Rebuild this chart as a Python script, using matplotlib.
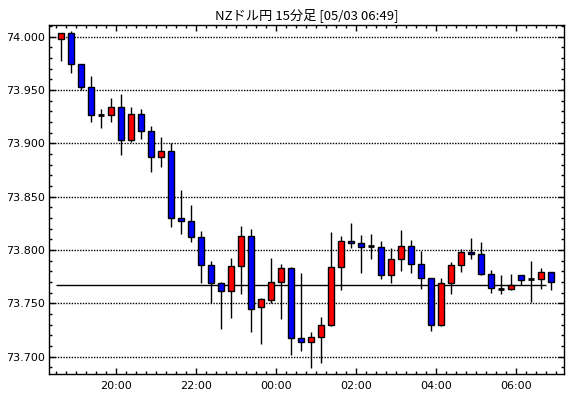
import matplotlib
matplotlib.use("Agg")
import matplotlib.pyplot as plt
import matplotlib.dates as mdates
import matplotlib.ticker as mticker
import pandas as pd

# ---- data ----
start_time = "2024-05-02 18:30"
n_candles = 50
opens = [73.998, 74.003, 73.974, 73.953, 73.926, 73.926, 73.934, 73.903, 73.927, 73.911,
         73.887, 73.893, 73.830, 73.827, 73.812, 73.786, 73.769, 73.761, 73.785, 73.813,
         73.746, 73.753, 73.770, 73.783, 73.717, 73.714, 73.718, 73.730, 73.784, 73.808,
         73.806, 73.804, 73.803, 73.776, 73.791, 73.804, 73.787, 73.774, 73.730, 73.769,
         73.786, 73.798, 73.796, 73.777, 73.763, 73.763, 73.776, 73.773, 73.773, 73.779]
closes = [74.003, 73.974, 73.953, 73.926, 73.926, 73.934, 73.903, 73.927, 73.911, 73.887,
          73.893, 73.830, 73.827, 73.812, 73.786, 73.769, 73.761, 73.785, 73.813, 73.745,
          73.754, 73.770, 73.783, 73.717, 73.714, 73.718, 73.730, 73.784, 73.808, 73.806,
          73.803, 73.804, 73.776, 73.791, 73.804, 73.787, 73.774, 73.730, 73.769, 73.786,
          73.798, 73.796, 73.777, 73.764, 73.763, 73.767, 73.772, 73.773, 73.779, 73.770]
highs = [74.003, 74.005, 73.974, 73.963, 73.932, 73.942, 73.946, 73.934, 73.932, 73.916,
         73.906, 73.900, 73.856, 73.842, 73.818, 73.790, 73.770, 73.792, 73.822, 73.820,
         73.755, 73.792, 73.787, 73.784, 73.778, 73.723, 73.737, 73.817, 73.813, 73.825,
         73.814, 73.815, 73.808, 73.802, 73.819, 73.809, 73.799, 73.774, 73.774, 73.789,
         73.801, 73.811, 73.807, 73.781, 73.776, 73.777, 73.776, 73.790, 73.783, 73.779]
lows = [73.977, 73.966, 73.950, 73.920, 73.914, 73.920, 73.889, 73.901, 73.904, 73.873,
        73.878, 73.821, 73.815, 73.807, 73.769, 73.750, 73.726, 73.736, 73.759, 73.723,
        73.712, 73.750, 73.735, 73.701, 73.705, 73.689, 73.694, 73.729, 73.762, 73.802,
        73.778, 73.791, 73.773, 73.769, 73.780, 73.778, 73.763, 73.724, 73.729, 73.759,
        73.779, 73.791, 73.776, 73.760, 73.759, 73.762, 73.767, 73.751, 73.763, 73.762]
ref_level = 73.767
title = "NZドル円 15分足 [05/03 06:49]"
y_ticks = [73.700, 73.750, 73.800, 73.850, 73.900, 73.950, 74.000]

# ---- plot ----
plt.rcParams['font.family'] = ['Noto Sans CJK JP', 'DejaVu Sans']
fig = plt.figure(figsize=(5.70, 3.98), dpi=100)
ax = fig.add_axes([49.3 / 570, 1 - 374 / 398, (564.3 - 49.3) / 570, (374 - 25) / 398])

times = pd.date_range(start_time, periods=n_candles, freq="15min")
centers = times + pd.Timedelta(minutes=7.5)
xc = mdates.date2num(centers)
body_w = 9.75 / (24 * 60)

for x, o, c, h, l in zip(xc, opens, closes, highs, lows):
    ax.vlines(x, l, h, color="black", lw=1, zorder=3)
    if abs(c - o) < 1e-9:
        ax.hlines(o, x - body_w / 2, x + body_w / 2, color="black", lw=2, zorder=4)
    else:
        col = "#FF0000" if c > o else "#0000FF"
        ax.bar(x, abs(c - o), bottom=min(o, c), width=body_w, color=col,
               edgecolor="black", linewidth=1, zorder=4)

ax.hlines(ref_level, mdates.date2num(times[0]), mdates.date2num(times[-1]),
          color="black", lw=1, zorder=2)

for yv in y_ticks:
    ax.axhline(yv, color="black", lw=1, ls=(0, (1, 1)), zorder=1)

ax.set_ylim(73.6836, 74.0108)
ax.set_xlim(mdates.date2num(pd.Timestamp("2024-05-02 18:20")),
            mdates.date2num(pd.Timestamp("2024-05-03 07:12:30")))

ax.set_yticks(y_ticks)
ax.yaxis.set_major_formatter(mticker.FormatStrFormatter("%.3f"))
ax.yaxis.set_minor_locator(mticker.MultipleLocator(0.01))
ax.xaxis.set_major_locator(mdates.HourLocator(byhour=range(0, 24, 2)))
ax.xaxis.set_minor_locator(mdates.MinuteLocator(byminute=[0, 15, 30, 45]))
ax.xaxis.set_major_formatter(mdates.DateFormatter("%H:%M"))

ax.tick_params(axis="both", which="both", direction="in", colors="black",
               top=True, right=True, labelsize=8)
ax.tick_params(axis="both", which="major", length=4, width=1)
ax.tick_params(axis="both", which="minor", length=2.5, width=1)
ax.tick_params(axis="x", which="major", pad=5)
ax.tick_params(axis="y", which="major", pad=3)
for lab in ax.get_xticklabels() + ax.get_yticklabels():
    lab.set_family("DejaVu Sans")

for s in ax.spines.values():
    s.set_color("black")
    s.set_linewidth(1)

ax.set_title(title, fontsize=9.5, pad=4)

fig.savefig("out.png", dpi=100)
